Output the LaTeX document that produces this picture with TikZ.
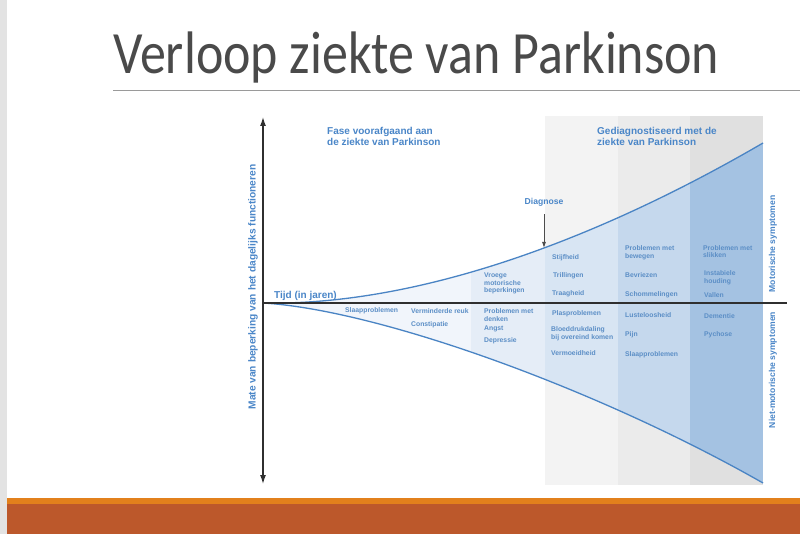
\documentclass[tikz,border=0pt]{standalone}
\usepackage{fontspec}
\setmainfont{Liberation Sans}
\newfontfamily\titlefont{Carlito}
\usetikzlibrary{arrows.meta}
\definecolor{txtblue}{HTML}{4A86C8}
\definecolor{lblblue}{HTML}{5B8EC6}
\definecolor{curveblue}{HTML}{4A84C4}
\definecolor{axisgray}{HTML}{2F2F2F}
\definecolor{stripgray}{HTML}{E3E3E3}
\definecolor{barorange}{HTML}{E2801C}
\definecolor{barred}{HTML}{BC582B}
\definecolor{titlegray}{HTML}{4A4A4A}
\definecolor{rulegray}{HTML}{9A9A9A}
\definecolor{colA}{HTML}{F3F3F3}
\definecolor{colB}{HTML}{EBEBEB}
\definecolor{colC}{HTML}{E0E0E0}
\definecolor{fillA}{HTML}{F1F5FB}
\definecolor{fillB}{HTML}{E5EDF7}
\definecolor{fillC}{HTML}{D8E5F3}
\definecolor{fillD}{HTML}{C5D8ED}
\definecolor{fillE}{HTML}{A4C2E2}
\tikzset{
  lbl/.style={anchor=west, inner sep=0pt, text=lblblue, align=left,
    font=\bfseries\fontsize{6.8}{7.8}\selectfont},
  head/.style={anchor=north west, inner sep=0pt, text=txtblue, align=left,
    font=\bfseries\fontsize{10}{11.5}\selectfont},
  sidelbl/.style={inner sep=0pt, text=txtblue, rotate=90,
    font=\bfseries\fontsize{8.6}{10}\selectfont},
  axisline/.style={draw=axisgray, line width=1.3pt},
  curve/.style={draw=curveblue, line width=1.3pt}
}
\begin{document}
\begin{tikzpicture}[x=1pt,y=-1pt]
\useasboundingbox (0,0) rectangle (800,534);
\fill[white] (0,0) rectangle (800,534);
% slide chrome
\fill[stripgray] (0,0) rectangle (7,534);
\fill[barorange] (7,498) rectangle (800,504);
\fill[barred] (7,504) rectangle (800,534);
\node[anchor=base west, inner sep=0pt, text=titlegray] (title) at (113,74)
  {\titlefont\fontsize{60}{60}\selectfont\scalebox{0.866}[1]{Verloop ziekte van Parkinson}};
\draw[rulegray, line width=0.8pt] (113,90) -- (800,90);
% grey columns
\fill[colA] (545,116) rectangle (618,485);
\fill[colB] (618,116) rectangle (690,485);
\fill[colC] (690,116) rectangle (763,485);
% blue region
\begin{scope}
\clip (263,303) .. controls (420,306) and (600,238) .. (763,143)
  -- (763,483) .. controls (600,390) and (380,310) .. (263,303) -- cycle;
\fill[fillA] (263,100) rectangle (471,500);
\fill[fillB] (471,100) rectangle (545,500);
\fill[fillC] (545,100) rectangle (618,500);
\fill[fillD] (618,100) rectangle (690,500);
\fill[fillE] (690,100) rectangle (763,500);
\end{scope}
\coordinate (O) at (263,303);
\coordinate (U) at (763,143);
\coordinate (L) at (763,483);
\coordinate (Ytop) at (263,117);
\coordinate (Ybot) at (263,484);
\coordinate (Xend) at (787,303);
\draw[curve] (O) .. controls (420,306) and (600,238) .. (U);
\draw[curve] (O) .. controls (380,310) and (600,390) .. (L);
% axes
\draw[axisline] (O) -- (Xend);
\draw[axisline, {Latex[length=9pt,width=6pt]}-{Latex[length=9pt,width=6pt]}] (Ytop) -- (Ybot);
% headings
\node[head] (fase) at (327,127) {Fase voorafgaand aan\\de ziekte van Parkinson};
\node[head] (gediag) at (597,127) {Gediagnostiseerd met de\\ziekte van Parkinson};
\node[inner sep=0pt, text=txtblue, font=\bfseries\fontsize{8.6}{10}\selectfont] (diag) at (544,202) {Diagnose};
\coordinate (diagtip) at (544,248);
\draw[draw=black!70, line width=0.8pt, -{Latex[length=6pt,width=4pt]}] ([yshift=-8pt]diag.south) -- (diagtip);
\node[anchor=west, inner sep=0pt, text=txtblue, font=\bfseries\fontsize{10}{12}\selectfont] (tijd) at (274,296) {Tijd (in jaren)};
% side labels
\node[sidelbl, font=\bfseries\fontsize{10.2}{12}\selectfont] (mate) at (253,287) {Mate van beperking van het dagelijks functioneren};
\node[sidelbl] (motor) at (773,244) {Motorische symptomen};
\node[sidelbl] (niet) at (773,370) {Niet-motorische symptomen};
% small labels
\node[lbl] (s1) at (345,311) {Slaapproblemen};
\node[lbl] (s2) at (411,311) {Verminderde reuk};
\node[lbl] (s3) at (411,325) {Constipatie};
\node[lbl] (s4) at (484,283.5) {Vroege\\motorische\\beperkingen};
\node[lbl] (s5) at (484,315) {Problemen met\\denken};
\node[lbl] (s6) at (484,329) {Angst};
\node[lbl] (s7) at (484,341) {Depressie};
\node[lbl] (s8) at (552,258) {Stijfheid};
\node[lbl] (s9) at (553,276) {Trillingen};
\node[lbl] (s10) at (552,294) {Traagheid};
\node[lbl] (s11) at (552,314) {Plasproblemen};
\node[lbl] (s12) at (551,334) {Bloeddrukdaling\\bij overeind komen};
\node[lbl] (s13) at (551,353) {Vermoeidheid};
\node[lbl] (s14) at (625,252.5) {Problemen met\\bewegen};
\node[lbl] (s15) at (625,275) {Bevriezen};
\node[lbl] (s16) at (625,295) {Schommelingen};
\node[lbl] (s17) at (625,315) {Lusteloosheid};
\node[lbl] (s18) at (625,335) {Pijn};
\node[lbl] (s19) at (625,355) {Slaapproblemen};
\node[lbl] (s20) at (703,251.5) {Problemen met\\slikken};
\node[lbl] (s21) at (704,278) {Instabiele\\houding};
\node[lbl] (s22) at (704,295) {Vallen};
\node[lbl] (s23) at (704,316) {Dementie};
\node[lbl] (s24) at (704,335) {Pychose};
\end{tikzpicture}
\end{document}
